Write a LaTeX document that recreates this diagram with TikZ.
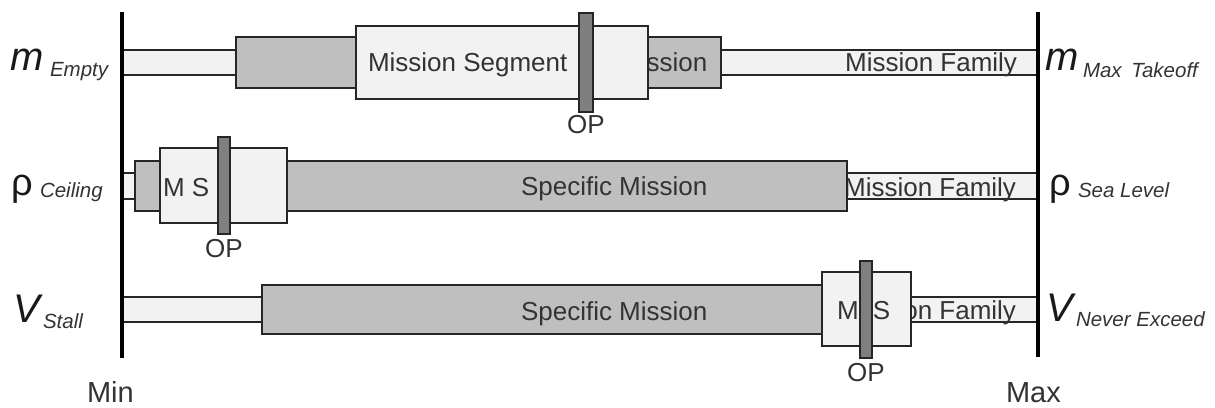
\documentclass[tikz,border=0pt]{standalone}
\usepackage{fontspec}
\setmainfont{Liberation Sans}
\definecolor{lightfill}{HTML}{F2F2F2}
\definecolor{darkfill}{HTML}{BFBFBF}
\definecolor{opfill}{HTML}{7F7F7F}
\definecolor{edge}{HTML}{262626}
\definecolor{txtcol}{HTML}{333333}
\newcommand\drawbox[6]{\node[#2, minimum width={#5-#3}, minimum height={#6-#4}] (#1) at (#3,#4) {};}
\begin{document}
\begin{tikzpicture}[x=1pt,y=-1pt,
  box/.style={draw=edge, line width=1.6pt, inner sep=0pt, outer sep=0pt, anchor=north west},
  lightbox/.style={box, fill=lightfill},
  darkbox/.style={box, fill=darkfill},
  opbar/.style={box, fill=opfill},
  txt/.style={inner sep=0pt, outer sep=0pt, text=txtcol, font=\fontsize{26}{30}\selectfont},
  biglab/.style={inner sep=0pt, outer sep=0pt, text=black!90, font=\fontsize{40}{44}\selectfont\itshape},
  rholab/.style={inner sep=0pt, outer sep=0pt, text=black!90, font=\fontsize{38}{42}\selectfont},
  sublab/.style={inner sep=0pt, outer sep=0pt, text=txtcol, font=\fontsize{20.5}{24}\selectfont\itshape},
  endlab/.style={inner sep=0pt, outer sep=0pt, text=txtcol, font=\fontsize{29}{33}\selectfont},
  axis/.style={line width=4pt, black}]
\useasboundingbox (0,0) rectangle (1215,407);

% ---------- Row 1 : mass ----------
\drawbox{r1bar}{lightbox}{122}{50}{1038}{75}
\node[txt, anchor=base east] (r1fam) at (1017,71) {Mission Family};
\drawbox{r1spec}{darkbox}{236}{37}{721}{88}
\node[txt, anchor=base west] (r1spect) at (521,71) {Specific Mission};
\drawbox{r1seg}{lightbox}{356}{26}{648}{99}
\node[txt, anchor=base west] (r1segt) at (368,71) {Mission Segment};
\drawbox{r1op}{opbar}{579}{13}{593}{112}
\node[txt, anchor=base] (r1opt) at (586,133) {OP};

% ---------- Row 2 : density ----------
\drawbox{r2bar}{lightbox}{122}{173}{1038}{199}
\node[txt, anchor=base east] (r2fam) at (1016,196) {Mission Family};
\drawbox{r2spec}{darkbox}{135}{161}{847}{211}
\node[txt, anchor=base west] (r2spect) at (521,195) {Specific Mission};
\drawbox{r2seg}{lightbox}{160}{148}{287}{223}
\node[txt, anchor=base west] (r2segt) at (163,196) {M S};
\drawbox{r2op}{opbar}{218}{137}{230}{234}
\node[txt, anchor=base] (r2opt) at (224,257) {OP};

% ---------- Row 3 : velocity ----------
\drawbox{r3bar}{lightbox}{122}{297}{1038}{322}
\node[txt, anchor=base east] (r3fam) at (1016,319) {Mission Family};
\drawbox{r3spec}{darkbox}{262}{285}{822}{334}
\node[txt, anchor=base west] (r3spect) at (521,320) {Specific Mission};
\drawbox{r3seg}{lightbox}{822}{272}{911}{346}
\node[txt, anchor=base west] (r3segt) at (837,319) {M\hspace{7pt} S};
\drawbox{r3op}{opbar}{860}{261}{872}{358}
\node[txt, anchor=base] (r3opt) at (866,381) {OP};

% ---------- Axes ----------
\coordinate (minTop) at (122,12);
\coordinate (minBot) at (122,358);
\coordinate (maxTop) at (1038,12);
\coordinate (maxBot) at (1038,357);
\draw[axis] (minTop) -- (minBot);
\draw[axis] (maxTop) -- (maxBot);
\node[endlab, anchor=base west] (minlab) at (87,402) {Min};
\node[endlab, anchor=base west] (maxlab) at (1006,402) {Max};

% ---------- Left labels ----------
\node[biglab, anchor=base west] (mL) at (10,70) {m};
\node[sublab, anchor=base west] (mLs) at (50,76) {Empty};
\node[rholab, anchor=base west] (rL) at (11,195) {ρ};
\node[sublab, anchor=base west] (rLs) at (40,197) {Ceiling};
\node[biglab, anchor=base west] (vL) at (13,322) {V};
\node[sublab, anchor=base west] (vLs) at (43,328) {Stall};

% ---------- Right labels ----------
\node[biglab, anchor=base west] (mR) at (1045,70) {m};
\node[sublab, anchor=base west] (mRs) at (1083,77) {Max\hspace{4pt} Takeoff};
\node[rholab, anchor=base west] (rR) at (1049,195) {ρ};
\node[sublab, anchor=base west] (rRs) at (1078,197) {Sea Level};
\node[biglab, anchor=base west] (vR) at (1046,321) {V};
\node[sublab, anchor=base west] (vRs) at (1076,326) {Never Exceed};
\end{tikzpicture}
\end{document}
